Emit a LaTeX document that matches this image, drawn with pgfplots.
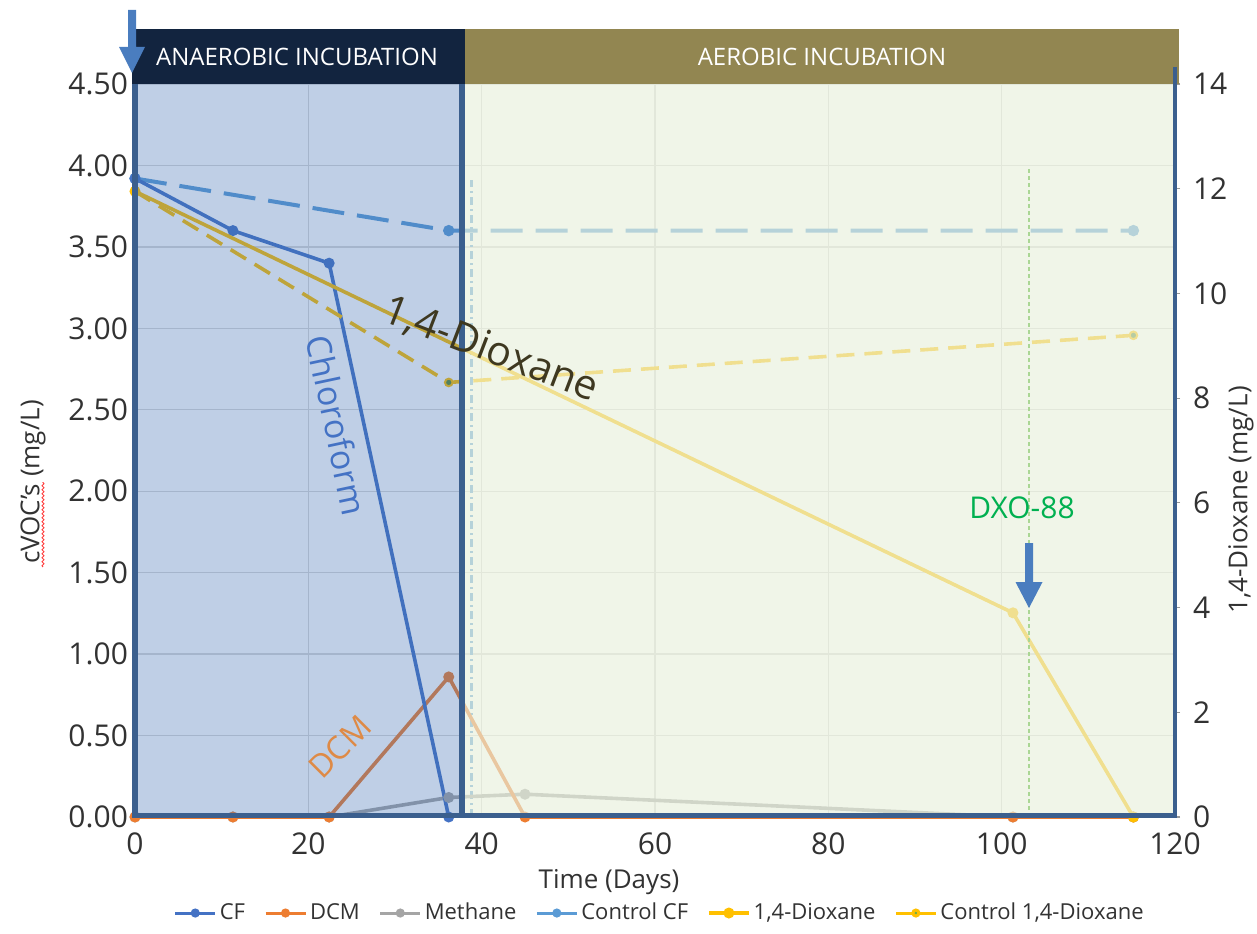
\documentclass[border=0pt]{standalone}
\usepackage{fontspec}
\setmainfont{Open Sans}
\usepackage{pgfplots}
\pgfplotsset{compat=1.18}
\usetikzlibrary{decorations.pathmorphing}
\definecolor{cCF}{HTML}{4472C4}
\definecolor{cDCM}{HTML}{ED7D31}
\definecolor{cMeth}{HTML}{A5A5A5}
\definecolor{cCCF}{HTML}{5B9BD5}
\definecolor{cDX}{HTML}{FFC000}
\definecolor{cGreen}{HTML}{70AD47}
\definecolor{navyband}{HTML}{12243F}
\definecolor{oliveband}{HTML}{928651}
\definecolor{bordc}{HTML}{3B5F8E}
\definecolor{anaer}{RGB}{60,110,180}
\definecolor{aer}{RGB}{232,240,220}
\definecolor{arrowc}{HTML}{4A7DBF}
\definecolor{dxotext}{HTML}{00B050}
\definecolor{diolab}{RGB}{62,56,32}
\definecolor{dcmtext}{RGB}{222,138,70}
\definecolor{ticklab}{RGB}{50,50,50}
\definecolor{dxoline}{RGB}{170,214,148}

\pgfplotsset{
  common/.style={
    at={(0pt,0pt)}, anchor=south west,
    scale only axis, width=520pt, height=366.5pt,
    xmin=0, xmax=120,
    /pgf/number format/assume math mode=true,
    tick label style={font=\fontsize{15}{18}\selectfont, text=ticklab},
    label style={font=\fontsize{13}{16}\selectfont, text=ticklab},
    clip=false,
  },
  legend image code/.code={\draw[mark repeat=2, mark phase=2, #1] plot coordinates {(0pt,0pt) (10pt,0pt) (20pt,0pt)};},
}

\begin{document}
\begin{tikzpicture}
\useasboundingbox (-67.5pt,-58pt) rectangle (561pt,408.5pt);

\begin{axis}[common,
  ymin=0, ymax=4.5,
  xtick={0,20,40,60,80,100,120},
  ytick={0,0.5,1,1.5,2,2.5,3,3.5,4,4.5},
  yticklabel style={/pgf/number format/fixed, /pgf/number format/fixed zerofill, /pgf/number format/precision=2},
  xticklabel style={yshift=-4.5pt},
  grid=major, major grid style={draw=black!15, line width=0.7pt},
  axis line style={draw=none}, tick style={draw=none},
  xlabel={Time (Days)}, ylabel={cVOC’s (mg/L)},
  xlabel style={at={(axis description cs:0.4558,-0.0887)}, anchor=center},
  ylabel style={at={(axis description cs:-0.098,0.457)}, anchor=center},
]
% vertical dash-dot marker line near day 39
\draw[cCCF, line width=1.4pt, dash pattern=on 4pt off 2pt on 1pt off 2pt] (axis cs:38.8,0) -- (axis cs:38.8,3.91);

% Methane
\addplot[cMeth, line width=1.8pt, mark=*, mark size=1.8pt] coordinates {
  (0,0) (11.3,0) (22.4,0) (36.2,0.12) (45,0.14) (101.3,0) (115.2,0)};
% DCM
\addplot[cDCM, line width=1.8pt, mark=*, mark size=1.8pt] coordinates {
  (0,0) (11.3,0) (22.4,0) (36.2,0.86) (45,0) (101.3,0) (115.2,0)};
% Control CF
\addplot[cCCF, line width=2pt, dash pattern=on 16pt off 6.5pt, mark=*, mark size=1.8pt, mark options={solid}] coordinates {
  (0,3.92) (36.2,3.6) (115.2,3.6)};
% CF
\addplot[cCF, line width=1.8pt, mark=*, mark size=1.8pt] coordinates {
  (0,3.92) (11.3,3.6) (22.4,3.4) (36.2,0)};
\end{axis}

\begin{axis}[common,
  ymin=0, ymax=14,
  ytick={0,2,4,6,8,10,12,14},
  axis y line*=right, axis x line=none,
  y axis line style={draw=none},
  ytick style={draw=black!40, line width=0.6pt},
  yticklabel style={xshift=3pt},
  tick align=outside, major tick length=2.5pt,
  ylabel={1,4-Dioxane (mg/L)},
  ylabel style={at={(axis description cs:1.0635,0.4325)}, anchor=center, rotate=0},
  legend columns=6,
  legend style={at={(axis description cs:0.505,-0.131)}, anchor=center, draw=none, fill=none,
    font=\fontsize{11}{13}\selectfont, text=ticklab,
    /tikz/every even column/.append style={column sep=8pt},
    nodes={inner sep=1.5pt}},
]
\addlegendimage{cCF, line width=1.5pt, mark=*, mark size=1.5pt}
\addlegendentry{CF}
\addlegendimage{cDCM, line width=1.5pt, mark=*, mark size=1.5pt}
\addlegendentry{DCM}
\addlegendimage{cMeth, line width=1.5pt, mark=*, mark size=1.5pt}
\addlegendentry{Methane}
\addlegendimage{cCCF, line width=1.5pt, mark=*, mark size=1.5pt}
\addlegendentry{Control CF}
% Control 1,4-Dioxane
\addplot[cDX, line width=1.8pt, dash pattern=on 9pt off 5pt, mark=*, mark size=1.9pt, mark options={solid, fill=cGreen!80!black, draw=cDX, line width=1pt}, forget plot] coordinates {
  (0,11.95) (36.2,8.3) (115.2,9.2)};
% 1,4-Dioxane
\addplot[cDX, line width=1.8pt, mark=*, mark size=1.8pt] coordinates {
  (0,11.95) (101.3,3.9) (115.2,0)};
\addlegendentry{1,4-Dioxane}
\addlegendimage{cDX, line width=1.5pt, mark=*, mark size=1.5pt, mark options={fill=cGreen, draw=cDX}}
\addlegendentry{Control 1,4-Dioxane}
\end{axis}

% translucent incubation overlays
\fill[anaer, opacity=0.33] (0pt,0pt) rectangle (163.5pt,366.5pt);
\fill[aer, opacity=0.65] (163.5pt,0pt) rectangle (520pt,366.5pt);

% DXO-88 dotted line
\draw[dxoline, line width=0.7pt, dash pattern=on 2pt off 1.5pt] (447pt,0pt) -- (447pt,324.5pt);

% header bands
\fill[navyband] (-1.5pt,366.5pt) rectangle (165pt,394pt);
\fill[oliveband] (165pt,366.5pt) rectangle (522pt,394pt);
\node[text=white, font=\fontsize{12}{14}\selectfont] at (81pt,380pt) {ANAEROBIC INCUBATION};
\node[text=white, font=\fontsize{12}{14}\selectfont] at (343.5pt,380pt) {AEROBIC INCUBATION};

% borders
\draw[bordc, line width=2.6pt] (0pt,0pt) -- (0pt,366.5pt);
\draw[bordc, line width=2.8pt] (163.5pt,0pt) -- (163.5pt,366.5pt);
\draw[bordc, line width=2.6pt] (-1.3pt,0.6pt) -- (521.2pt,0.6pt);
\draw[bordc, line width=2.4pt] (520pt,0pt) -- (520pt,375pt);

% arrows
\fill[arrowc] (-3.5pt,403.5pt) -- (0.5pt,403.5pt) -- (0.5pt,385pt) -- (5pt,385pt) -- (-1.5pt,372pt) -- (-8pt,385pt) -- (-3.5pt,385pt) -- cycle;
\fill[arrowc] (445pt,137pt) -- (449pt,137pt) -- (449pt,117.5pt) -- (453.75pt,117.5pt) -- (447pt,104.5pt) -- (440.25pt,117.5pt) -- (445pt,117.5pt) -- cycle;

% annotations
\node[rotate=-78, text=cCF, font=\fontsize{17}{20}\selectfont] at (101pt,196pt) {Chloroform};
\node[rotate=-21, text=diolab, font=\fontsize{20.5}{24}\selectfont] at (178pt,233.5pt) {1,4-Dioxane};
\node[rotate=45, text=dcmtext, font=\fontsize{16}{19}\selectfont] at (102.5pt,35pt) {DCM};
\node[text=dxotext, font=\fontsize{15}{18}\selectfont] at (443.5pt,154.5pt) {DXO-88};

% spell-check underline
\draw[red!75!white, line width=0.5pt, decorate, decoration={snake, amplitude=0.5pt, segment length=2pt}] (-46pt,125pt) -- (-46pt,167.5pt);
\end{tikzpicture}
\end{document}
